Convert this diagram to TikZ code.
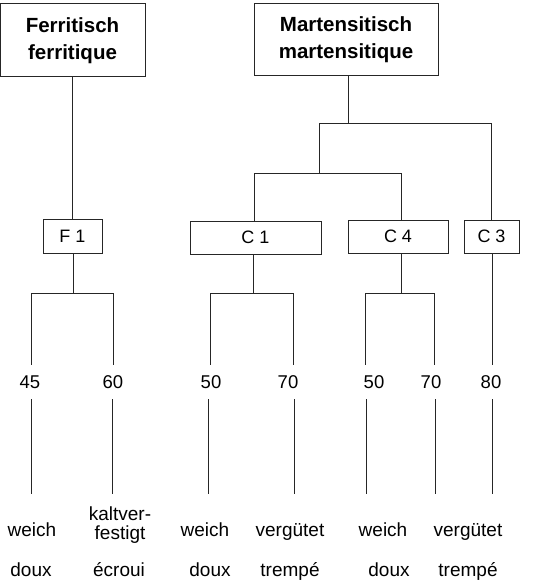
\documentclass[tikz,border=0pt]{standalone}
\usepackage{fontspec}
\setmainfont{Liberation Sans}
\begin{document}
\begin{tikzpicture}[x=1pt,y=-1pt,
  link/.style={line width=1pt, draw=black!85},
  box/.style={draw=black!85, line width=1pt, inner sep=0pt, anchor=center},
  title/.style={box, font=\bfseries\fontsize{20.5}{27}\selectfont, align=center},
  grade/.style={box, font=\fontsize{18}{20}\selectfont},
  num/.style={inner sep=0pt, minimum height=34pt, font=\fontsize{18.5}{20}\selectfont},
  lbl/.style={inner sep=0pt, anchor=base, font=\fontsize{19}{19}\selectfont, align=center}]
  \useasboundingbox (0,0) rectangle (534,585);

  % family headers
  \node[title, minimum width=145pt, minimum height=73pt] (ferr) at (72.5,40.5) {Ferritisch\\ferritique};
  \node[title, minimum width=184pt, minimum height=72pt] (mart) at (346,40) {Martensitisch\\martensitique};

  % steel grades
  \node[grade, minimum width=59pt,  minimum height=34pt] (f1) at (72.5,236)  {F 1};
  \node[grade, minimum width=131pt, minimum height=33pt] (c1) at (255.5,237.5) {C 1};
  \node[grade, minimum width=100pt, minimum height=33pt] (c4) at (398,236.5) {C 4};
  \node[grade, minimum width=55pt,  minimum height=33pt] (c3) at (491.5,236.5) {C 3};

  % strength classes
  \node[num] (n45)  at (30,382)  {45};
  \node[num] (n60)  at (113,382) {60};
  \node[num] (n50a) at (211,382) {50};
  \node[num] (n70a) at (288,382) {70};
  \node[num] (n50b) at (374,382) {50};
  \node[num] (n70b) at (431,382) {70};
  \node[num] (n80)  at (491,382) {80};

  % branch points
  \coordinate (m0) at (348,124);
  \coordinate (mL) at (319,124);
  \coordinate (mR) at (491,124);
  \coordinate (kL) at (254,174);
  \coordinate (kR) at (401,174);
  \coordinate (fj) at (73,293);
  \coordinate (fa) at (31,293);
  \coordinate (fb) at (113,293);
  \coordinate (cj) at (253,293);
  \coordinate (ca) at (210,293);
  \coordinate (cb) at (293,293);
  \coordinate (dj) at (401,293);
  \coordinate (da) at (365,293);
  \coordinate (db) at (434,293);

  % lower ends of the condition lines
  \coordinate (e45)  at (31,494);
  \coordinate (e60)  at (112,494);
  \coordinate (e50a) at (208,494);
  \coordinate (e70a) at (294,494);
  \coordinate (e50b) at (366,494);
  \coordinate (e70b) at (435,494);
  \coordinate (e80)  at (492,494);

  % tree: ferritic
  \draw[link] (ferr) -- (f1);
  \draw[link] (f1.south -| fj) -- (fj);
  \draw[link] (fa |- n45.north) -- (fa) -- (fb) -- (fb |- n60.north);

  % tree: martensitic
  \draw[link] (mart.south -| m0) -- (m0);
  \draw[link] (mL |- kL) -- (mL) -- (mR) -- (mR |- c3.north);
  \draw[link] (kL |- c1.north) -- (kL) -- (kR) -- (kR |- c4.north);
  \draw[link] (c1.south -| cj) -- (cj);
  \draw[link] (ca |- n50a.north) -- (ca) -- (cb) -- (cb |- n70a.north);
  \draw[link] (c4.south -| dj) -- (dj);
  \draw[link] (da |- n50b.north) -- (da) -- (db) -- (db |- n70b.north);
  \draw[link] (c3.south -| e80) -- (e80 |- n80.north);

  % condition lines
  \draw[link] (e45 |- n45.south) -- (e45);
  \draw[link] (e60 |- n60.south) -- (e60);
  \draw[link] (e50a |- n50a.south) -- (e50a);
  \draw[link] (e70a |- n70a.south) -- (e70a);
  \draw[link] (e50b |- n50b.south) -- (e50b);
  \draw[link] (e70b |- n70b.south) -- (e70b);
  \draw[link] (e80 |- n80.south) -- (e80);

  % conditions (German); a two-line node sits on its last baseline
  \node[lbl] (w45)  at (32,536)  {weich};
  \node[lbl] (w60)  at (120,539) {kaltver-\\festigt};
  \node[lbl] (w50a) at (205,536) {weich};
  \node[lbl] (w70a) at (290,536) {vergütet};
  \node[lbl] (w50b) at (383,536) {weich};
  \node[lbl] (w70b) at (468,536) {vergütet};

  % conditions (French)
  \node[lbl] (f45)  at (31,576)  {doux};
  \node[lbl] (f60)  at (119,576) {écroui};
  \node[lbl] (f50a) at (210,576) {doux};
  \node[lbl] (f70a) at (290,576) {trempé};
  \node[lbl] (f50b) at (389,576) {doux};
  \node[lbl] (f70b) at (468,576) {trempé};
\end{tikzpicture}
\end{document}
